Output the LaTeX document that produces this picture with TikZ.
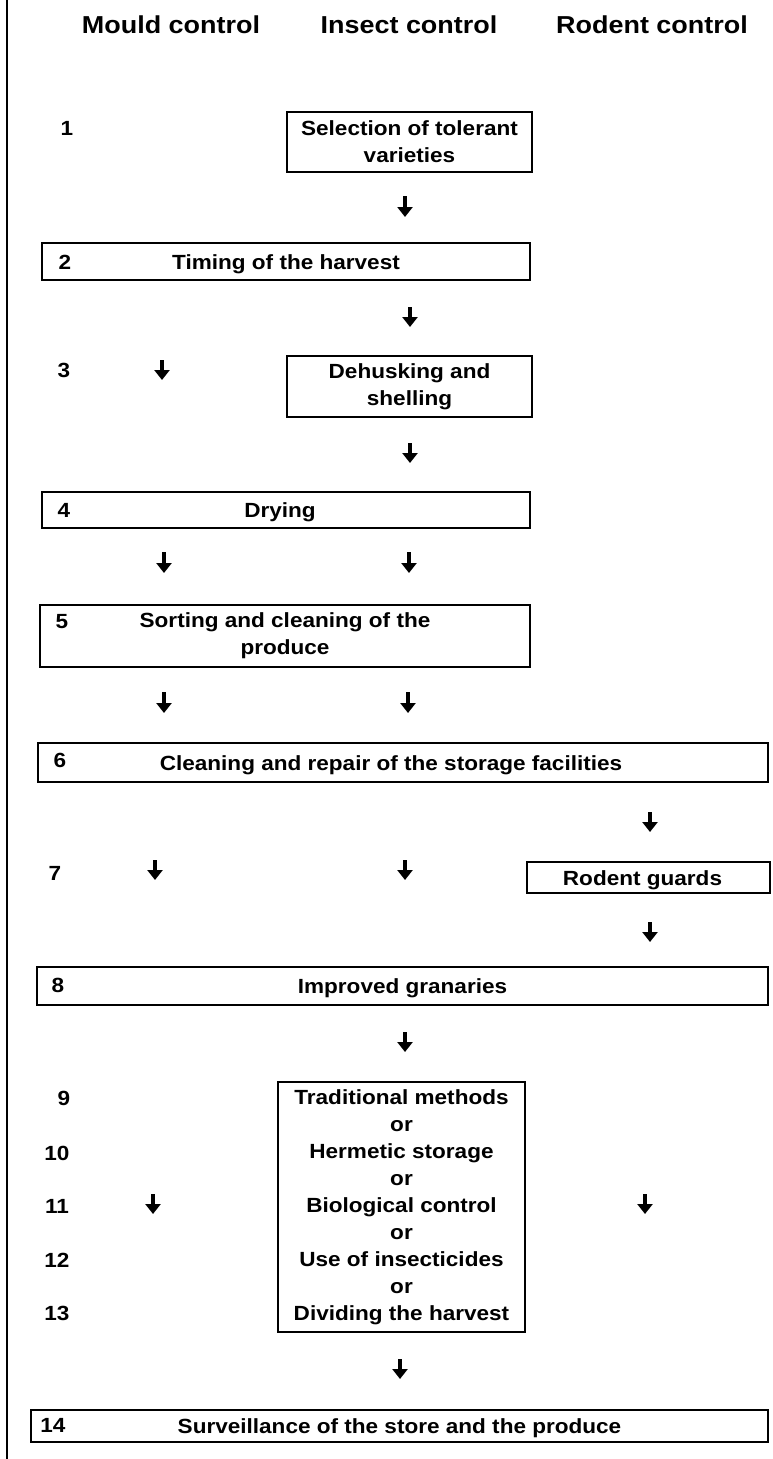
\documentclass[tikz,border=0pt]{standalone}
\usepackage{fontspec}
\setmainfont{Liberation Sans}[FakeStretch=1.1]
\usetikzlibrary{arrows.meta}
\newcommand\myBody{\fontsize{20.5}{27}\selectfont\bfseries}
\newcommand\myHead{\fontsize{24.5}{28}\selectfont\bfseries}
\begin{document}
\begin{tikzpicture}[x=1pt,y=-1pt,
  box/.style={draw, line width=1.6pt, inner sep=0pt, align=center, font=\myBody},
  onebox/.style={box, text height=15pt, text depth=0pt},
  num/.style={font=\myBody, inner sep=0pt},
  head/.style={font=\myHead, inner sep=0pt, anchor=base},
  arr/.style={line width=4pt, -{Triangle[width=15pt,length=10pt]}}]
\useasboundingbox (0,0) rectangle (773,1459);
\fill[white] (0,0) rectangle (773,1459);
% left margin line
\coordinate (lt) at (7,0);
\coordinate (lb) at (7,1459);
\draw[line width=2pt] (lt) -- (lb);
% headers
\node[head] (hm) at (171,33) {Mould control};
\node[head] (hi) at (409,33) {Insect control};
\node[head] (hr) at (652,33) {Rodent control};
% boxes
\node[box, minimum width=245pt, minimum height=60pt] (b1) at (409.5,142) {Selection of tolerant\\varieties};
\node[onebox, minimum width=488pt, minimum height=37pt] (b2) at (286,261.5) {Timing of the harvest};
\node[box, minimum width=245pt, minimum height=61pt] (b3) at (409.5,386.5) {Dehusking and\\shelling};
\node[onebox, minimum width=488pt, minimum height=36pt] (b4) at (286,510) {Drying\hspace*{12pt}};
\node[box, minimum width=490pt, minimum height=62pt] (b5) at (285,636) {Sorting and cleaning of the\\produce};
\node[onebox, minimum width=730pt, minimum height=39pt] (b6) at (403,762.5) {Cleaning and repair of the storage facilities\hspace*{24pt}};
\node[onebox, minimum width=243pt, minimum height=31pt] (b7) at (648.5,877.5) {Rodent guards\hspace*{12pt}};
\node[onebox, minimum width=731pt, minimum height=38pt] (b8) at (402.5,986) {Improved granaries};
\node[box, minimum width=247pt, minimum height=250pt] (b9) at (401.5,1207) {Traditional methods\\or\\Hermetic storage\\or\\Biological control\\or\\Use of insecticides\\or\\Dividing the harvest};
\node[onebox, minimum width=737pt, minimum height=32pt] (b14) at (399.5,1426) {Surveillance of the store and the produce};
% numbers
\node[num] (n1) at (67,128) {1};
\node[num] (n2) at (65,262) {2};
\node[num] (n3) at (64,370) {3};
\node[num] (n4) at (64,510) {4};
\node[num] (n5) at (62,622) {5};
\node[num] (n6) at (60,760) {6};
\node[num] (n7) at (55,873) {7};
\node[num] (n8) at (58,985) {8};
\node[num] (n9) at (64,1098) {9};
\node[num] (n10) at (57,1153) {10};
\node[num] (n11) at (57,1206) {11};
\node[num] (n12) at (57,1260) {12};
\node[num] (n13) at (57,1313) {13};
\node[num] (n14) at (53,1425) {14};
% arrows
\foreach \n/\x/\ya/\yb in {a1/405/196/217, a2/410/307/327, a3m/162/360/380, a3/410/443/463,
  a4m/164/552/573, a4i/409/552/573, a5m/164/692/713, a5i/408/692/713, a6r/650/812/832,
  a7m/155/860/880, a7i/405/860/880, a7r/650/922/942, a8/405/1032/1052,
  a11m/153/1194/1214, a11r/645/1194/1214, a13/400/1359/1379}{
  \coordinate (\n s) at (\x,\ya);
  \coordinate (\n e) at (\x,\yb);
  \draw[arr] (\n s) -- (\n e);
}
\end{tikzpicture}
\end{document}
